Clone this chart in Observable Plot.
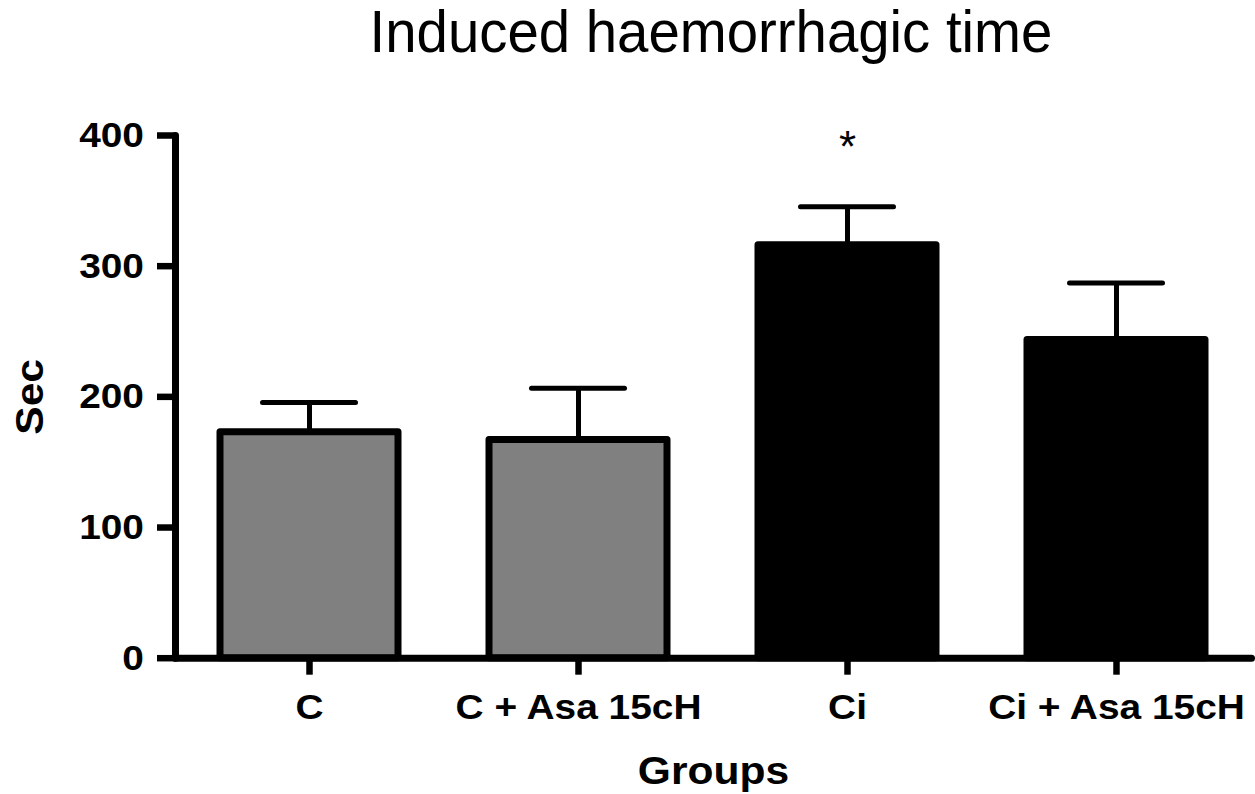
<!DOCTYPE html>
<html>
<head>
<meta charset="utf-8">
<script src="https://cdn.jsdelivr.net/npm/d3@7"></script>
<script src="https://cdn.jsdelivr.net/npm/@observablehq/plot@0.6"></script>
<style>
  html, body { margin: 0; padding: 0; background: white; }
  #title {
    width: 1255px; height: 100px; box-sizing: border-box; position: relative;
    font-family: "Liberation Sans", Arial, sans-serif; color: black;
  }
  #title span {
    position: absolute; left: 711px; top: 3px;
    transform: translateX(-50%) scaleX(0.955);
    font-size: 59px; line-height: 59px; white-space: nowrap;
  }
</style>
</head>
<body>
<div id="title"><span>Induced haemorrhagic time</span></div>
<div id="chart"></div>
<script>
// Data
const groups = ["C", "C + Asa 15cH", "Ci", "Ci + Asa 15cH"];
const means = [173, 167, 316, 243.5];
const sems = [22.6, 39.6, 29.4, 43.7];
const fills = ["#808080", "#808080", "#000000", "#000000"];
const sigLabels = ["", "", "*", ""];
const yTicks = [0, 100, 200, 300, 400];
const xLabel = "Groups";
const yLabel = "Sec";

const data = groups.map((g, i) => ({
  group: g, mean: means[i], top: means[i] + sems[i], fill: fills[i], sig: sigLabels[i]
}));

const chart = Plot.plot({
  width: 1255,
  height: 694,
  marginLeft: 175,
  marginRight: 4,
  marginTop: 35,
  marginBottom: 136.3,
  style: { fontFamily: "'Liberation Sans', Arial, sans-serif", background: "white", color: "black", overflow: "visible" },
  x: { domain: groups, paddingInner: 0.338, paddingOuter: 0.169, label: null },
  y: { domain: [0, 400], label: null },
  color: { type: "identity" },
  marks: [
    Plot.ruleX(data, { x: "group", y1: "mean", y2: "top", stroke: "black", strokeWidth: 5 }),
    Plot.tickY(data, { x: "group", y: "top", stroke: "black", strokeWidth: 5, insetLeft: 42.5, insetRight: 42.5, strokeLinecap: "round" }),
    Plot.barY(data, { x: "group", y: "mean", fill: "fill", stroke: "black", strokeWidth: 7, strokeLinejoin: "round" }),
    Plot.frame({ anchor: "left", stroke: "black", strokeWidth: 7, strokeLinecap: "round" }),
    Plot.frame({ anchor: "bottom", stroke: "black", strokeWidth: 7, strokeLinecap: "round" }),
    Plot.axisY({ ticks: yTicks, tickSize: 18, tickPadding: 13.5, stroke: "black", strokeWidth: 6.5, fontSize: 36, fontWeight: "bold", label: null }),
    Plot.axisX({ tickSize: 17, tickPadding: 18, stroke: "black", strokeWidth: 6.5, fontSize: 36, fontWeight: "bold", label: null }),
    Plot.text(data, { x: "group", y: "top", text: "sig", dy: -59, fontSize: 44 }),
    Plot.text([xLabel], { frameAnchor: "bottom", lineAnchor: "top", dy: 99, fontSize: 38, fontWeight: "bold", className: "axis-title" }),
    Plot.text([yLabel], { frameAnchor: "left", textAnchor: "middle", rotate: -90, dx: -145, fontSize: 38, fontWeight: "bold", className: "axis-title" })
  ]
});

document.getElementById("chart").appendChild(chart);

// Slight horizontal stretch of the bold labels, as in the reference
chart.querySelectorAll("text").forEach(t => {
  const tr = t.getAttribute("transform");
  if (!tr || t.textContent === "*") return;
  const isTitle = t.closest(".axis-title") !== null;
  t.setAttribute("transform", tr + (isTitle ? " scale(1.12,1)" : " scale(1.08,1)"));
});
</script>
</body>
</html>
